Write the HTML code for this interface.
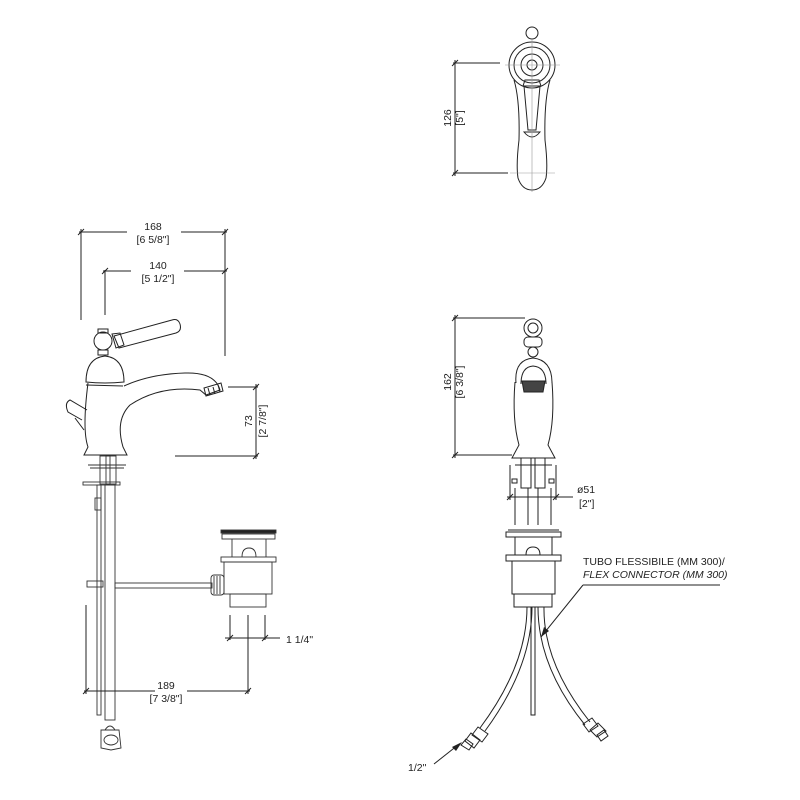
<!DOCTYPE html>
<html><head><meta charset="utf-8"><style>
html,body{margin:0;padding:0;background:#fff}
svg{display:block}
text{font-family:"Liberation Sans",sans-serif;font-size:10.5px;fill:#222}
</style></head><body>
<svg width="800" height="800" viewBox="0 0 800 800" xmlns="http://www.w3.org/2000/svg">
<g fill="none" stroke="#222" stroke-width="1">
<line x1="81" y1="229" x2="81" y2="320"/>
<line x1="225" y1="229" x2="225" y2="356"/>
<line x1="79" y1="232" x2="127" y2="232"/><line x1="181" y1="232" x2="227" y2="232"/>
<line x1="78" y1="235" x2="84" y2="229"/><line x1="222" y1="235" x2="228" y2="229"/>
<line x1="105" y1="270" x2="105" y2="315"/>
<line x1="103" y1="271" x2="131" y2="271"/><line x1="184" y1="271" x2="227" y2="271"/>
<line x1="102" y1="274" x2="108" y2="268"/><line x1="222" y1="274" x2="228" y2="268"/>
<circle cx="103" cy="341" r="9"/>
<rect x="98" y="329" width="10" height="4"/>
<rect x="98" y="350" width="10" height="5"/>
<path d="M114 336 L172 320 Q178 318 180 324 Q182 331 176 333 L119 348 Z"/>
<path d="M112 334 L120 333 L124 345 L116 348 Z"/>
<path d="M86 382 Q86 358 105 356 Q124 358 124 382 Q105 384 86 382 Z"/>
<line x1="86" y1="385" x2="123" y2="386"/>
<path d="M88 383 Q82 430 88 447 L84 455 L127 455 L123 447 Q115 420 130 405 Q160 385 200 390 L206 395 L220 390 Q215 372 185 373 Q150 374 124 386"/>
<path d="M204 388 L221 383 L223 391 L206 396 Z"/>
<line x1="208" y1="388" x2="210" y2="395"/><line x1="213" y1="387" x2="215" y2="394"/><line x1="218" y1="385" x2="220" y2="392"/>
<path d="M87 410 L70 400 Q64 403 68 412 L82 420"/>
<path d="M75 418 L84 430"/>
<line x1="228" y1="387" x2="258" y2="387"/>
<line x1="175" y1="456" x2="258" y2="456"/>
<line x1="256" y1="384" x2="256" y2="459"/>
<line x1="253" y1="390" x2="259" y2="384"/><line x1="253" y1="459" x2="259" y2="453"/>
</g>
<text transform="translate(252,421) rotate(-90)" text-anchor="middle">73</text>
<text transform="translate(266,421) rotate(-90)" text-anchor="middle">[2 7/8"]</text>
<text x="153" y="230" text-anchor="middle">168</text>
<text x="153" y="243" text-anchor="middle">[6 5/8"]</text>
<text x="158" y="269" text-anchor="middle">140</text>
<text x="158" y="282" text-anchor="middle">[5 1/2"]</text>

<g fill="none" stroke="#333" stroke-width="0.9">
<line x1="88" y1="465" x2="126" y2="465"/><line x1="90" y1="468" x2="124" y2="468"/>
<rect x="100" y="456" width="10" height="28"/><rect x="106" y="456" width="10" height="28"/>
<rect x="83" y="482" width="37" height="3"/>
<rect x="97" y="485" width="4" height="230"/>
<rect x="105" y="485" width="10" height="235"/>
<rect x="95" y="498" width="6" height="12"/>
<rect x="87" y="581" width="16" height="6"/>
<rect x="115" y="583" width="97" height="5"/>
<rect x="221" y="530" width="55" height="3" fill="#222"/>
<rect x="222" y="534" width="53" height="5"/>
<path d="M232 539 L232 557 M266 539 L266 557"/>
<path d="M242 557 Q242 548 249 548 Q256 548 256 557"/>
<rect x="221" y="557" width="55" height="5"/>
<rect x="224" y="562" width="48" height="32"/>
<rect x="230" y="594" width="36" height="13"/>
<rect x="211" y="575" width="13" height="20" rx="3"/>
<path d="M214 576 L214 594 M217 576 L217 594 M220 576 L220 594"/>
<path d="M101 730 L119 730 L121 748 L111 750 L101 748 Z"/>
<ellipse cx="111" cy="740" rx="7" ry="5"/>
<path d="M105 730 Q110 722 115 730"/>
</g>
<g fill="none" stroke="#222" stroke-width="1">
<line x1="230" y1="615" x2="230" y2="640"/><line x1="265" y1="615" x2="265" y2="640"/>
<line x1="225" y1="638" x2="280" y2="638"/>
<line x1="227" y1="641" x2="233" y2="635"/><line x1="262" y1="641" x2="268" y2="635"/>
<line x1="86" y1="605" x2="86" y2="694"/>
<line x1="248" y1="615" x2="248" y2="694"/>
<line x1="84" y1="691" x2="155" y2="691"/><line x1="187" y1="691" x2="250" y2="691"/>
<line x1="83" y1="694" x2="89" y2="688"/><line x1="245" y1="694" x2="251" y2="688"/>
</g>
<text x="286" y="643">1 1/4"</text>
<text x="166" y="689" text-anchor="middle">189</text>
<text x="166" y="702" text-anchor="middle">[7 3/8"]</text>

<g fill="none" stroke="#222" stroke-width="1">
<circle cx="532" cy="33" r="6"/>
<circle cx="532" cy="65" r="23"/>
<circle cx="532" cy="65" r="18"/>
<circle cx="532" cy="65" r="11"/>
<circle cx="532" cy="65" r="5"/>
<path d="M514 80 Q520 100 519 140 Q516 165 518 178 Q522 190 532 190 Q542 190 546 178 Q548 165 545 140 Q544 100 550 80"/>
<path d="M525 80 L539 80 L541 86 L523 86 Z"/>
<path d="M524 86 L528 130 L536 130 L540 86"/>
<path d="M524 132 Q532 142 540 132 Z"/>
<line x1="453" y1="63" x2="500" y2="63"/>
<line x1="453" y1="173" x2="508" y2="173"/>
<line x1="455" y1="60" x2="455" y2="176"/>
<line x1="452" y1="66" x2="458" y2="60"/><line x1="452" y1="176" x2="458" y2="170"/>
</g>
<g stroke="#999" stroke-width="0.6"><line x1="505" y1="65" x2="560" y2="65"/><line x1="532" y1="40" x2="532" y2="192"/><line x1="510" y1="173" x2="555" y2="173"/></g>
<text transform="translate(451,118) rotate(-90)" text-anchor="middle">126</text>
<text transform="translate(463,118) rotate(-90)" text-anchor="middle">[5"]</text>

<g fill="none" stroke="#222" stroke-width="1">
<circle cx="533" cy="328" r="9"/><circle cx="533" cy="328" r="5"/>
<rect x="524" y="337" width="18" height="10" rx="4"/>
<circle cx="533" cy="352" r="5"/>
<path d="M516 383 Q514 360 533 358 Q552 360 552 383"/>
<path d="M521 384 Q521 367 533 366 Q546 367 546 384"/>
<path d="M522 381 L545 381 L543 392 L524 392 Z" fill="#444"/>
<path d="M515 382 Q512 420 519 445 L512 458 L555 458 L548 445 Q555 420 552 382"/>
<line x1="453" y1="318" x2="525" y2="318"/>
<line x1="453" y1="455" x2="512" y2="455"/>
<line x1="455" y1="315" x2="455" y2="458"/>
<line x1="452" y1="321" x2="458" y2="315"/><line x1="452" y1="458" x2="458" y2="452"/>
<rect x="521" y="458" width="10" height="30"/><rect x="535" y="458" width="10" height="30"/>
<line x1="515" y1="465" x2="552" y2="465"/>
<line x1="510" y1="465" x2="510" y2="500"/><line x1="556" y1="465" x2="556" y2="500"/>
<rect x="512" y="479" width="5" height="4"/><rect x="549" y="479" width="5" height="4"/>
<line x1="515" y1="488" x2="515" y2="525"/><line x1="528" y1="488" x2="528" y2="525"/>
<line x1="538" y1="488" x2="538" y2="525"/><line x1="551" y1="488" x2="551" y2="525"/>
<line x1="507" y1="497" x2="573" y2="497"/>
<line x1="507" y1="500" x2="513" y2="494"/><line x1="553" y1="500" x2="559" y2="494"/>
<rect x="506" y="532" width="55" height="5"/>
<line x1="508" y1="530" x2="559" y2="530"/>
<line x1="515" y1="537" x2="515" y2="555"/><line x1="552" y1="537" x2="552" y2="555"/>
<path d="M526 555 Q526 547 533 547 Q540 547 540 555"/>
<rect x="506" y="555" width="55" height="6"/>
<rect x="512" y="561" width="43" height="33"/>
<rect x="514" y="594" width="38" height="13"/>
<path d="M527 607 Q527 665 480 728"/>
<path d="M532 607 Q532 667 485 731"/>
<path d="M538 607 Q538 667 585 725"/>
<path d="M544 607 Q543 663 590 722"/>
<rect x="531" y="607" width="4" height="108"/>
<path d="M478 727 L488 734 L482 742 L472 735 Z"/>
<path d="M471 733 L480 740 L474 748 L465 741 Z"/>
<path d="M466 739 L473 744 L469 750 L461 745 Z"/>
<path d="M583 724 L592 718 L598 726 L589 732 Z"/>
<path d="M590 730 L598 723 L606 731 L597 737 Z"/>
<path d="M597 735 L604 730 L608 736 L601 741 Z"/>
<line x1="583" y1="585" x2="720" y2="585"/>
<line x1="583" y1="585" x2="541" y2="637"/>
<line x1="434" y1="764" x2="458" y2="745"/>
</g>
<path d="M541 637 L544 627 L549 631 Z" fill="#222"/>
<path d="M462 742 L452 747 L456 751 Z" fill="#222"/>
<text transform="translate(451,382) rotate(-90)" text-anchor="middle">162</text>
<text transform="translate(463,382) rotate(-90)" text-anchor="middle">[6 3/8"]</text>
<text x="577" y="493">ø51</text>
<text x="579" y="507">[2"]</text>
<text x="583" y="565">TUBO FLESSIBILE (MM 300)/</text>
<text x="583" y="578" font-style="italic">FLEX CONNECTOR (MM 300)</text>
<text x="408" y="771">1/2"</text>
</svg>
</body></html>
